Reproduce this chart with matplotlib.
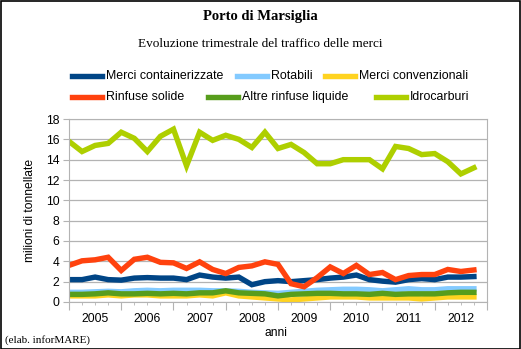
import numpy as np
import matplotlib
matplotlib.use('Agg')
import matplotlib.pyplot as plt
from matplotlib.lines import Line2D
from matplotlib.patches import Rectangle

years = ['2005', '2006', '2007', '2008', '2009', '2010', '2011', '2012']

# quarterly traffic, millions of tonnes (Q1 2005 .. Q4 2012)
containerizzate = [2.2, 2.2, 2.45, 2.2, 2.15, 2.35, 2.4, 2.35,
                   2.35, 2.2, 2.65, 2.45, 2.35, 2.45, 1.7, 2.0,
                   2.1, 2.0, 2.1, 2.2, 2.35, 2.45, 2.65, 2.2,
                   2.05, 1.95, 2.2, 2.3, 2.2, 2.45, 2.45, 2.5]
rotabili = [0.95, 0.95, 1.0, 1.05, 1.0, 1.1, 1.15, 1.1,
            1.15, 1.15, 1.15, 1.1, 1.1, 1.05, 0.95, 0.9,
            0.85, 0.95, 1.05, 1.15, 1.2, 1.25, 1.25, 1.2,
            1.1, 1.2, 1.3, 1.2, 1.2, 1.3, 1.3, 1.3]
convenzionali = [0.6, 0.6, 0.6, 0.7, 0.6, 0.7, 0.7, 0.6,
                 0.6, 0.6, 0.7, 0.6, 0.9, 0.6, 0.5, 0.4,
                 0.3, 0.2, 0.3, 0.4, 0.5, 0.5, 0.5, 0.4,
                 0.4, 0.4, 0.4, 0.3, 0.4, 0.5, 0.5, 0.5]
rinfuse_solide = [3.6, 4.05, 4.15, 4.4, 3.1, 4.2, 4.4, 3.9,
                  3.85, 3.3, 3.95, 3.2, 2.8, 3.4, 3.55, 3.95,
                  3.7, 1.8, 1.5, 2.4, 3.45, 2.8, 3.6, 2.7,
                  2.9, 2.2, 2.6, 2.7, 2.7, 3.2, 3.0, 3.15]
altre_liquide = [0.75, 0.75, 0.8, 0.9, 0.8, 0.8, 0.85, 0.8,
                 0.85, 0.8, 0.9, 0.9, 1.1, 0.9, 0.85, 0.8,
                 0.6, 0.75, 0.8, 0.85, 0.85, 0.8, 0.8, 0.75,
                 0.85, 0.75, 0.8, 0.8, 0.8, 0.9, 0.95, 0.95]
idrocarburi = [15.8, 14.8, 15.4, 15.6, 16.7, 16.1, 14.8, 16.3,
               17.0, 13.4, 16.7, 15.9, 16.4, 16.0, 15.2, 16.7,
               15.1, 15.5, 14.7, 13.6, 13.6, 14.0, 14.0, 14.0,
               13.1, 15.3, 15.1, 14.5, 14.6, 13.8, 12.6, 13.2]

series = [
    ('Merci containerizzate', containerizzate, '#004586'),
    ('Rotabili', rotabili, '#83CAFF'),
    ('Merci convenzionali', convenzionali, '#FFD320'),
    ('Rinfuse solide', rinfuse_solide, '#FF420E'),
    ('Altre rinfuse liquide', altre_liquide, '#579D1C'),
    ('Idrocarburi', idrocarburi, '#AECF00'),
]

sans = 'Liberation Sans'
serif = 'Liberation Serif'
grid_col = '#b3b3b3'

fig = plt.figure(figsize=(5.21, 3.49), dpi=100)
ax = fig.add_axes([0.1324, 0.1347, 0.8023, 0.5243])

x = np.arange(len(idrocarburi))
for name, vals, col in series:
    ax.plot(x, vals, color=col, lw=3.9, solid_joinstyle='miter', label=name)

ax.set_xlim(0, 32)
ax.set_ylim(0, 18)
ax.set_yticks(np.arange(0, 19, 2))
ax.yaxis.grid(True, color=grid_col, lw=0.9)
ax.set_axisbelow(True)
for sp in ax.spines.values():
    sp.set_color(grid_col)
ax.tick_params(axis='y', length=4, color=grid_col, labelsize=8.7, pad=3)
for lbl in ax.get_yticklabels():
    lbl.set_fontfamily(sans)

# year boundaries (major) and quarters (minor)
ax.set_xticks(np.arange(0, 33, 4))
ax.set_xticklabels([])
ax.set_xticks([q for q in range(33) if q % 4], minor=True)
ax.tick_params(axis='x', which='major', length=5.5, color=grid_col)
ax.tick_params(axis='x', which='minor', length=2.5, color=grid_col)

sec = ax.secondary_xaxis('bottom')
sec.set_xticks(np.arange(2, 33, 4), labels=years)
sec.tick_params(length=0, pad=8, labelsize=8.7)
sec.spines['bottom'].set_visible(False)
for lbl in sec.get_xticklabels():
    lbl.set_fontfamily(sans)

ax.set_ylabel('milioni di tonnellate', fontfamily=sans, fontsize=8.7, labelpad=7)
fig.text(0.53, 0.045, 'anni', ha='center', va='center', fontfamily=sans, fontsize=8.7)

fig.text(0.5, 0.953, 'Porto di Marsiglia', ha='center', va='center',
         fontfamily=serif, fontweight='bold', fontsize=10.5)
fig.text(0.5, 0.875, 'Evoluzione trimestrale del traffico delle merci',
         ha='center', va='center', fontfamily=serif, fontsize=9.5)
fig.text(0.01, 0.025, '(elab. inforMARE)', ha='left', va='center',
         fontfamily=serif, fontsize=8)

# legend laid out in two rows
W, H = 521.0, 349.0
legend_pos = [(72, 76), (237, 76), (325, 76), (72, 97), (208, 97), (376, 97)]
for (name, vals, col), (lx, ly) in zip(series, legend_pos):
    yy = 1 - ly / H
    fig.add_artist(Line2D([lx / W, (lx + 30) / W], [yy, yy], color=col, lw=3.9))
    fig.text((lx + 34) / W, yy, name, ha='left', va='center',
             fontfamily=sans, fontsize=8.9)

fig.add_artist(Rectangle((0.001, 0.001), 0.997, 0.996, transform=fig.transFigure,
                         fill=False, edgecolor='black', lw=1.2))

fig.savefig('out.png', dpi=100)
